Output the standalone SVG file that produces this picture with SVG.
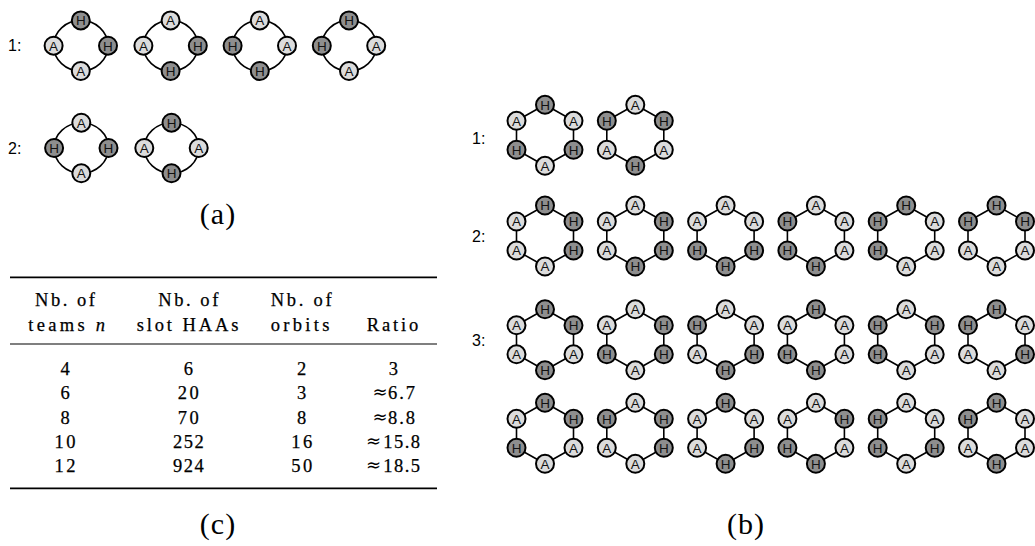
<svg xmlns="http://www.w3.org/2000/svg" xmlns:xlink="http://www.w3.org/1999/xlink" width="1035" height="546" viewBox="0 0 1035 546">
<style>
.n circle{stroke:#000;stroke-width:2}
.H circle{fill:#8e8e8e}
.A circle{fill:#dcdcdc}
.n text{font-family:"Liberation Sans",Arial,sans-serif;font-size:13.5px;text-anchor:middle;fill:#111}
.lbl{font-family:"Liberation Sans",Arial,sans-serif;font-size:16px;fill:#000}
.edge{stroke:#000;stroke-width:1.6;fill:none}
.tb{font-family:"Liberation Serif","Times New Roman",serif;font-size:18.5px;text-anchor:middle;fill:#000;stroke:#000;stroke-width:0.25}
.ap{font-family:"DejaVu Sans",sans-serif;font-size:18px;text-anchor:middle;fill:#000}
.cap{font-family:"Liberation Serif","Times New Roman",serif;font-size:30px;text-anchor:middle;fill:#000;letter-spacing:1px}
.rule{stroke:#000}
</style>
<defs>
<g id="hexring" class="edge">
<line x1="0" y1="-30.5" x2="28.5" y2="-14.5"/>
<line x1="28.5" y1="-14.5" x2="28.5" y2="14.5"/>
<line x1="28.5" y1="14.5" x2="0" y2="30.5"/>
<line x1="0" y1="30.5" x2="-28.5" y2="14.5"/>
<line x1="-28.5" y1="14.5" x2="-28.5" y2="-14.5"/>
<line x1="-28.5" y1="-14.5" x2="0" y2="-30.5"/>
</g>
<g id="diaring" class="edge">
<path d="M0,-25.3 A27.2,25.3 0 0 1 27.2,0"/>
<path d="M27.2,0 A27.2,25.3 0 0 1 0,25.3"/>
<path d="M0,25.3 A27.2,25.3 0 0 1 -27.2,0"/>
<path d="M-27.2,0 A27.2,25.3 0 0 1 0,-25.3"/>
</g>
</defs>
<rect width="1035" height="546" fill="#fff"/>

<g id="connectors">
<use xlink:href="#diaring" x="80.8" y="45.7"/>
<use xlink:href="#diaring" x="170.6" y="45.7"/>
<use xlink:href="#diaring" x="259.8" y="45.7"/>
<use xlink:href="#diaring" x="349" y="45.7"/>
<use xlink:href="#diaring" x="81.3" y="148"/>
<use xlink:href="#diaring" x="171.5" y="148"/>
<use xlink:href="#hexring" x="545" y="135.3"/>
<use xlink:href="#hexring" x="635.3" y="135.3"/>
<use xlink:href="#hexring" x="545" y="236"/>
<use xlink:href="#hexring" x="635.3" y="236"/>
<use xlink:href="#hexring" x="725.6" y="236"/>
<use xlink:href="#hexring" x="815.9" y="236"/>
<use xlink:href="#hexring" x="906.2" y="236"/>
<use xlink:href="#hexring" x="996.5" y="236"/>
<use xlink:href="#hexring" x="545" y="339.8"/>
<use xlink:href="#hexring" x="635.3" y="339.8"/>
<use xlink:href="#hexring" x="725.6" y="339.8"/>
<use xlink:href="#hexring" x="815.9" y="339.8"/>
<use xlink:href="#hexring" x="906.2" y="339.8"/>
<use xlink:href="#hexring" x="996.5" y="339.8"/>
<use xlink:href="#hexring" x="545" y="433.3"/>
<use xlink:href="#hexring" x="635.3" y="433.3"/>
<use xlink:href="#hexring" x="725.6" y="433.3"/>
<use xlink:href="#hexring" x="815.9" y="433.3"/>
<use xlink:href="#hexring" x="906.2" y="433.3"/>
<use xlink:href="#hexring" x="996.5" y="433.3"/>
</g>

<!-- part (a) -->
<text class="lbl" x="8" y="51">1:</text>
<text class="lbl" x="8" y="154">2:</text>

<g id="a1-1" transform="translate(80.8,45.7)">
<g id="a1-1-t" class="n H"><circle cx="0" cy="-25.3" r="9"/><text x="0" y="-20.5">H</text></g>
<g id="a1-1-r" class="n H"><circle cx="27.2" cy="0" r="9"/><text x="27.2" y="4.8">H</text></g>
<g id="a1-1-b" class="n A"><circle cx="0" cy="25.3" r="9"/><text x="0" y="30.1">A</text></g>
<g id="a1-1-l" class="n A"><circle cx="-27.2" cy="0" r="9"/><text x="-27.2" y="4.8">A</text></g>
</g>
<g id="a1-2" transform="translate(170.6,45.7)">
<g id="a1-2-t" class="n A"><circle cx="0" cy="-25.3" r="9"/><text x="0" y="-20.5">A</text></g>
<g id="a1-2-r" class="n H"><circle cx="27.2" cy="0" r="9"/><text x="27.2" y="4.8">H</text></g>
<g id="a1-2-b" class="n H"><circle cx="0" cy="25.3" r="9"/><text x="0" y="30.1">H</text></g>
<g id="a1-2-l" class="n A"><circle cx="-27.2" cy="0" r="9"/><text x="-27.2" y="4.8">A</text></g>
</g>
<g id="a1-3" transform="translate(259.8,45.7)">
<g id="a1-3-t" class="n A"><circle cx="0" cy="-25.3" r="9"/><text x="0" y="-20.5">A</text></g>
<g id="a1-3-r" class="n A"><circle cx="27.2" cy="0" r="9"/><text x="27.2" y="4.8">A</text></g>
<g id="a1-3-b" class="n H"><circle cx="0" cy="25.3" r="9"/><text x="0" y="30.1">H</text></g>
<g id="a1-3-l" class="n H"><circle cx="-27.2" cy="0" r="9"/><text x="-27.2" y="4.8">H</text></g>
</g>
<g id="a1-4" transform="translate(349,45.7)">
<g id="a1-4-t" class="n H"><circle cx="0" cy="-25.3" r="9"/><text x="0" y="-20.5">H</text></g>
<g id="a1-4-r" class="n A"><circle cx="27.2" cy="0" r="9"/><text x="27.2" y="4.8">A</text></g>
<g id="a1-4-b" class="n A"><circle cx="0" cy="25.3" r="9"/><text x="0" y="30.1">A</text></g>
<g id="a1-4-l" class="n H"><circle cx="-27.2" cy="0" r="9"/><text x="-27.2" y="4.8">H</text></g>
</g>
<g id="a2-1" transform="translate(81.3,148)">
<g id="a2-1-t" class="n A"><circle cx="0" cy="-25.3" r="9"/><text x="0" y="-20.5">A</text></g>
<g id="a2-1-r" class="n H"><circle cx="27.2" cy="0" r="9"/><text x="27.2" y="4.8">H</text></g>
<g id="a2-1-b" class="n A"><circle cx="0" cy="25.3" r="9"/><text x="0" y="30.1">A</text></g>
<g id="a2-1-l" class="n H"><circle cx="-27.2" cy="0" r="9"/><text x="-27.2" y="4.8">H</text></g>
</g>
<g id="a2-2" transform="translate(171.5,148)">
<g id="a2-2-t" class="n H"><circle cx="0" cy="-25.3" r="9"/><text x="0" y="-20.5">H</text></g>
<g id="a2-2-r" class="n A"><circle cx="27.2" cy="0" r="9"/><text x="27.2" y="4.8">A</text></g>
<g id="a2-2-b" class="n H"><circle cx="0" cy="25.3" r="9"/><text x="0" y="30.1">H</text></g>
<g id="a2-2-l" class="n A"><circle cx="-27.2" cy="0" r="9"/><text x="-27.2" y="4.8">A</text></g>
</g>
<text class="cap" x="218" y="224">(a)</text>

<!-- part (c) table -->
<g id="table">
<line class="rule" x1="10" y1="277.3" x2="437" y2="277.3" stroke-width="1.8"/>
<line class="rule" x1="10" y1="344" x2="437" y2="344" stroke-width="1.1"/>
<line class="rule" x1="10" y1="488.3" x2="437" y2="488.3" stroke-width="1.8"/>
<text class="tb" x="65" y="306" textLength="60" lengthAdjust="spacing">Nb. of</text>
<text class="tb" x="66.7" y="331" textLength="76.7" lengthAdjust="spacing">teams <tspan font-style="italic">n</tspan></text>
<text class="tb" x="188.3" y="306" textLength="60" lengthAdjust="spacing">Nb. of</text>
<text class="tb" x="187.5" y="331" textLength="101.7" lengthAdjust="spacing">slot HAAs</text>
<text class="tb" x="301.2" y="306" textLength="61" lengthAdjust="spacing">Nb. of</text>
<text class="tb" x="300" y="331" textLength="58.7" lengthAdjust="spacing">orbits</text>
<text class="tb" x="392.5" y="331" textLength="51.7" lengthAdjust="spacing">Ratio</text>

<text class="tb" x="65" y="375">4</text>
<text class="tb" x="188.3" y="375">6</text>
<text class="tb" x="301.7" y="375">2</text>
<text class="tb" x="393.3" y="375">3</text>

<text class="tb" x="65" y="399.3">6</text>
<text class="tb" x="188.3" y="399.3" textLength="21" lengthAdjust="spacing">20</text>
<text class="tb" x="301.7" y="399.3">3</text>
<text class="ap" x="380" y="398.3">≈</text>
<text class="tb" x="401.5" y="399.3" textLength="27" lengthAdjust="spacing">6.7</text>

<text class="tb" x="65" y="423.6">8</text>
<text class="tb" x="188.3" y="423.6" textLength="21" lengthAdjust="spacing">70</text>
<text class="tb" x="301.7" y="423.6">8</text>
<text class="ap" x="380" y="422.6">≈</text>
<text class="tb" x="401.5" y="423.6" textLength="27" lengthAdjust="spacing">8.8</text>

<text class="tb" x="65" y="447.9" textLength="21" lengthAdjust="spacing">10</text>
<text class="tb" x="188.3" y="447.9" textLength="30.7" lengthAdjust="spacing">252</text>
<text class="tb" x="301.7" y="447.9" textLength="21" lengthAdjust="spacing">16</text>
<text class="ap" x="373.5" y="446.9">≈</text>
<text class="tb" x="401.7" y="447.9" textLength="36.7" lengthAdjust="spacing">15.8</text>

<text class="tb" x="65" y="472.2" textLength="21" lengthAdjust="spacing">12</text>
<text class="tb" x="188.3" y="472.2" textLength="30.7" lengthAdjust="spacing">924</text>
<text class="tb" x="301.7" y="472.2" textLength="21" lengthAdjust="spacing">50</text>
<text class="ap" x="373.5" y="471.2">≈</text>
<text class="tb" x="401.7" y="472.2" textLength="36.7" lengthAdjust="spacing">18.5</text>
</g>
<text class="cap" x="218" y="534">(c)</text>

<!-- part (b) -->
<text class="lbl" x="472" y="144">1:</text>
<text class="lbl" x="472" y="242">2:</text>
<text class="lbl" x="472" y="346">3:</text>

<g id="b1-1" transform="translate(545,135.3)">
<g id="b1-1-t" class="n H"><circle cx="0" cy="-30.5" r="9"/><text x="0" y="-25.7">H</text></g>
<g id="b1-1-ur" class="n A"><circle cx="28.5" cy="-14.5" r="9"/><text x="28.5" y="-9.7">A</text></g>
<g id="b1-1-lr" class="n H"><circle cx="28.5" cy="14.5" r="9"/><text x="28.5" y="19.3">H</text></g>
<g id="b1-1-b" class="n A"><circle cx="0" cy="30.5" r="9"/><text x="0" y="35.3">A</text></g>
<g id="b1-1-ll" class="n H"><circle cx="-28.5" cy="14.5" r="9"/><text x="-28.5" y="19.3">H</text></g>
<g id="b1-1-ul" class="n A"><circle cx="-28.5" cy="-14.5" r="9"/><text x="-28.5" y="-9.7">A</text></g>
</g>
<g id="b1-2" transform="translate(635.3,135.3)">
<g id="b1-2-t" class="n A"><circle cx="0" cy="-30.5" r="9"/><text x="0" y="-25.7">A</text></g>
<g id="b1-2-ur" class="n H"><circle cx="28.5" cy="-14.5" r="9"/><text x="28.5" y="-9.7">H</text></g>
<g id="b1-2-lr" class="n A"><circle cx="28.5" cy="14.5" r="9"/><text x="28.5" y="19.3">A</text></g>
<g id="b1-2-b" class="n H"><circle cx="0" cy="30.5" r="9"/><text x="0" y="35.3">H</text></g>
<g id="b1-2-ll" class="n A"><circle cx="-28.5" cy="14.5" r="9"/><text x="-28.5" y="19.3">A</text></g>
<g id="b1-2-ul" class="n H"><circle cx="-28.5" cy="-14.5" r="9"/><text x="-28.5" y="-9.7">H</text></g>
</g>

<g id="b2-1" transform="translate(545,236)">
<g id="b2-1-t" class="n H"><circle cx="0" cy="-30.5" r="9"/><text x="0" y="-25.7">H</text></g>
<g id="b2-1-ur" class="n H"><circle cx="28.5" cy="-14.5" r="9"/><text x="28.5" y="-9.7">H</text></g>
<g id="b2-1-lr" class="n H"><circle cx="28.5" cy="14.5" r="9"/><text x="28.5" y="19.3">H</text></g>
<g id="b2-1-b" class="n A"><circle cx="0" cy="30.5" r="9"/><text x="0" y="35.3">A</text></g>
<g id="b2-1-ll" class="n A"><circle cx="-28.5" cy="14.5" r="9"/><text x="-28.5" y="19.3">A</text></g>
<g id="b2-1-ul" class="n A"><circle cx="-28.5" cy="-14.5" r="9"/><text x="-28.5" y="-9.7">A</text></g>
</g>
<g id="b2-2" transform="translate(635.3,236)">
<g id="b2-2-t" class="n A"><circle cx="0" cy="-30.5" r="9"/><text x="0" y="-25.7">A</text></g>
<g id="b2-2-ur" class="n H"><circle cx="28.5" cy="-14.5" r="9"/><text x="28.5" y="-9.7">H</text></g>
<g id="b2-2-lr" class="n H"><circle cx="28.5" cy="14.5" r="9"/><text x="28.5" y="19.3">H</text></g>
<g id="b2-2-b" class="n H"><circle cx="0" cy="30.5" r="9"/><text x="0" y="35.3">H</text></g>
<g id="b2-2-ll" class="n A"><circle cx="-28.5" cy="14.5" r="9"/><text x="-28.5" y="19.3">A</text></g>
<g id="b2-2-ul" class="n A"><circle cx="-28.5" cy="-14.5" r="9"/><text x="-28.5" y="-9.7">A</text></g>
</g>
<g id="b2-3" transform="translate(725.6,236)">
<g id="b2-3-t" class="n A"><circle cx="0" cy="-30.5" r="9"/><text x="0" y="-25.7">A</text></g>
<g id="b2-3-ur" class="n A"><circle cx="28.5" cy="-14.5" r="9"/><text x="28.5" y="-9.7">A</text></g>
<g id="b2-3-lr" class="n H"><circle cx="28.5" cy="14.5" r="9"/><text x="28.5" y="19.3">H</text></g>
<g id="b2-3-b" class="n H"><circle cx="0" cy="30.5" r="9"/><text x="0" y="35.3">H</text></g>
<g id="b2-3-ll" class="n H"><circle cx="-28.5" cy="14.5" r="9"/><text x="-28.5" y="19.3">H</text></g>
<g id="b2-3-ul" class="n A"><circle cx="-28.5" cy="-14.5" r="9"/><text x="-28.5" y="-9.7">A</text></g>
</g>
<g id="b2-4" transform="translate(815.9,236)">
<g id="b2-4-t" class="n A"><circle cx="0" cy="-30.5" r="9"/><text x="0" y="-25.7">A</text></g>
<g id="b2-4-ur" class="n A"><circle cx="28.5" cy="-14.5" r="9"/><text x="28.5" y="-9.7">A</text></g>
<g id="b2-4-lr" class="n A"><circle cx="28.5" cy="14.5" r="9"/><text x="28.5" y="19.3">A</text></g>
<g id="b2-4-b" class="n H"><circle cx="0" cy="30.5" r="9"/><text x="0" y="35.3">H</text></g>
<g id="b2-4-ll" class="n H"><circle cx="-28.5" cy="14.5" r="9"/><text x="-28.5" y="19.3">H</text></g>
<g id="b2-4-ul" class="n H"><circle cx="-28.5" cy="-14.5" r="9"/><text x="-28.5" y="-9.7">H</text></g>
</g>
<g id="b2-5" transform="translate(906.2,236)">
<g id="b2-5-t" class="n H"><circle cx="0" cy="-30.5" r="9"/><text x="0" y="-25.7">H</text></g>
<g id="b2-5-ur" class="n A"><circle cx="28.5" cy="-14.5" r="9"/><text x="28.5" y="-9.7">A</text></g>
<g id="b2-5-lr" class="n A"><circle cx="28.5" cy="14.5" r="9"/><text x="28.5" y="19.3">A</text></g>
<g id="b2-5-b" class="n A"><circle cx="0" cy="30.5" r="9"/><text x="0" y="35.3">A</text></g>
<g id="b2-5-ll" class="n H"><circle cx="-28.5" cy="14.5" r="9"/><text x="-28.5" y="19.3">H</text></g>
<g id="b2-5-ul" class="n H"><circle cx="-28.5" cy="-14.5" r="9"/><text x="-28.5" y="-9.7">H</text></g>
</g>
<g id="b2-6" transform="translate(996.5,236)">
<g id="b2-6-t" class="n H"><circle cx="0" cy="-30.5" r="9"/><text x="0" y="-25.7">H</text></g>
<g id="b2-6-ur" class="n H"><circle cx="28.5" cy="-14.5" r="9"/><text x="28.5" y="-9.7">H</text></g>
<g id="b2-6-lr" class="n A"><circle cx="28.5" cy="14.5" r="9"/><text x="28.5" y="19.3">A</text></g>
<g id="b2-6-b" class="n A"><circle cx="0" cy="30.5" r="9"/><text x="0" y="35.3">A</text></g>
<g id="b2-6-ll" class="n A"><circle cx="-28.5" cy="14.5" r="9"/><text x="-28.5" y="19.3">A</text></g>
<g id="b2-6-ul" class="n H"><circle cx="-28.5" cy="-14.5" r="9"/><text x="-28.5" y="-9.7">H</text></g>
</g>

<g id="b3-1" transform="translate(545,339.8)">
<g id="b3-1-t" class="n H"><circle cx="0" cy="-30.5" r="9"/><text x="0" y="-25.7">H</text></g>
<g id="b3-1-ur" class="n H"><circle cx="28.5" cy="-14.5" r="9"/><text x="28.5" y="-9.7">H</text></g>
<g id="b3-1-lr" class="n A"><circle cx="28.5" cy="14.5" r="9"/><text x="28.5" y="19.3">A</text></g>
<g id="b3-1-b" class="n H"><circle cx="0" cy="30.5" r="9"/><text x="0" y="35.3">H</text></g>
<g id="b3-1-ll" class="n A"><circle cx="-28.5" cy="14.5" r="9"/><text x="-28.5" y="19.3">A</text></g>
<g id="b3-1-ul" class="n A"><circle cx="-28.5" cy="-14.5" r="9"/><text x="-28.5" y="-9.7">A</text></g>
</g>
<g id="b3-2" transform="translate(635.3,339.8)">
<g id="b3-2-t" class="n A"><circle cx="0" cy="-30.5" r="9"/><text x="0" y="-25.7">A</text></g>
<g id="b3-2-ur" class="n H"><circle cx="28.5" cy="-14.5" r="9"/><text x="28.5" y="-9.7">H</text></g>
<g id="b3-2-lr" class="n H"><circle cx="28.5" cy="14.5" r="9"/><text x="28.5" y="19.3">H</text></g>
<g id="b3-2-b" class="n A"><circle cx="0" cy="30.5" r="9"/><text x="0" y="35.3">A</text></g>
<g id="b3-2-ll" class="n H"><circle cx="-28.5" cy="14.5" r="9"/><text x="-28.5" y="19.3">H</text></g>
<g id="b3-2-ul" class="n A"><circle cx="-28.5" cy="-14.5" r="9"/><text x="-28.5" y="-9.7">A</text></g>
</g>
<g id="b3-3" transform="translate(725.6,339.8)">
<g id="b3-3-t" class="n A"><circle cx="0" cy="-30.5" r="9"/><text x="0" y="-25.7">A</text></g>
<g id="b3-3-ur" class="n A"><circle cx="28.5" cy="-14.5" r="9"/><text x="28.5" y="-9.7">A</text></g>
<g id="b3-3-lr" class="n H"><circle cx="28.5" cy="14.5" r="9"/><text x="28.5" y="19.3">H</text></g>
<g id="b3-3-b" class="n H"><circle cx="0" cy="30.5" r="9"/><text x="0" y="35.3">H</text></g>
<g id="b3-3-ll" class="n A"><circle cx="-28.5" cy="14.5" r="9"/><text x="-28.5" y="19.3">A</text></g>
<g id="b3-3-ul" class="n H"><circle cx="-28.5" cy="-14.5" r="9"/><text x="-28.5" y="-9.7">H</text></g>
</g>
<g id="b3-4" transform="translate(815.9,339.8)">
<g id="b3-4-t" class="n H"><circle cx="0" cy="-30.5" r="9"/><text x="0" y="-25.7">H</text></g>
<g id="b3-4-ur" class="n A"><circle cx="28.5" cy="-14.5" r="9"/><text x="28.5" y="-9.7">A</text></g>
<g id="b3-4-lr" class="n A"><circle cx="28.5" cy="14.5" r="9"/><text x="28.5" y="19.3">A</text></g>
<g id="b3-4-b" class="n H"><circle cx="0" cy="30.5" r="9"/><text x="0" y="35.3">H</text></g>
<g id="b3-4-ll" class="n H"><circle cx="-28.5" cy="14.5" r="9"/><text x="-28.5" y="19.3">H</text></g>
<g id="b3-4-ul" class="n A"><circle cx="-28.5" cy="-14.5" r="9"/><text x="-28.5" y="-9.7">A</text></g>
</g>
<g id="b3-5" transform="translate(906.2,339.8)">
<g id="b3-5-t" class="n A"><circle cx="0" cy="-30.5" r="9"/><text x="0" y="-25.7">A</text></g>
<g id="b3-5-ur" class="n H"><circle cx="28.5" cy="-14.5" r="9"/><text x="28.5" y="-9.7">H</text></g>
<g id="b3-5-lr" class="n A"><circle cx="28.5" cy="14.5" r="9"/><text x="28.5" y="19.3">A</text></g>
<g id="b3-5-b" class="n A"><circle cx="0" cy="30.5" r="9"/><text x="0" y="35.3">A</text></g>
<g id="b3-5-ll" class="n H"><circle cx="-28.5" cy="14.5" r="9"/><text x="-28.5" y="19.3">H</text></g>
<g id="b3-5-ul" class="n H"><circle cx="-28.5" cy="-14.5" r="9"/><text x="-28.5" y="-9.7">H</text></g>
</g>
<g id="b3-6" transform="translate(996.5,339.8)">
<g id="b3-6-t" class="n H"><circle cx="0" cy="-30.5" r="9"/><text x="0" y="-25.7">H</text></g>
<g id="b3-6-ur" class="n A"><circle cx="28.5" cy="-14.5" r="9"/><text x="28.5" y="-9.7">A</text></g>
<g id="b3-6-lr" class="n H"><circle cx="28.5" cy="14.5" r="9"/><text x="28.5" y="19.3">H</text></g>
<g id="b3-6-b" class="n A"><circle cx="0" cy="30.5" r="9"/><text x="0" y="35.3">A</text></g>
<g id="b3-6-ll" class="n A"><circle cx="-28.5" cy="14.5" r="9"/><text x="-28.5" y="19.3">A</text></g>
<g id="b3-6-ul" class="n H"><circle cx="-28.5" cy="-14.5" r="9"/><text x="-28.5" y="-9.7">H</text></g>
</g>

<g id="b4-1" transform="translate(545,433.3)">
<g id="b4-1-t" class="n H"><circle cx="0" cy="-30.5" r="9"/><text x="0" y="-25.7">H</text></g>
<g id="b4-1-ur" class="n H"><circle cx="28.5" cy="-14.5" r="9"/><text x="28.5" y="-9.7">H</text></g>
<g id="b4-1-lr" class="n A"><circle cx="28.5" cy="14.5" r="9"/><text x="28.5" y="19.3">A</text></g>
<g id="b4-1-b" class="n A"><circle cx="0" cy="30.5" r="9"/><text x="0" y="35.3">A</text></g>
<g id="b4-1-ll" class="n H"><circle cx="-28.5" cy="14.5" r="9"/><text x="-28.5" y="19.3">H</text></g>
<g id="b4-1-ul" class="n A"><circle cx="-28.5" cy="-14.5" r="9"/><text x="-28.5" y="-9.7">A</text></g>
</g>
<g id="b4-2" transform="translate(635.3,433.3)">
<g id="b4-2-t" class="n A"><circle cx="0" cy="-30.5" r="9"/><text x="0" y="-25.7">A</text></g>
<g id="b4-2-ur" class="n H"><circle cx="28.5" cy="-14.5" r="9"/><text x="28.5" y="-9.7">H</text></g>
<g id="b4-2-lr" class="n H"><circle cx="28.5" cy="14.5" r="9"/><text x="28.5" y="19.3">H</text></g>
<g id="b4-2-b" class="n A"><circle cx="0" cy="30.5" r="9"/><text x="0" y="35.3">A</text></g>
<g id="b4-2-ll" class="n A"><circle cx="-28.5" cy="14.5" r="9"/><text x="-28.5" y="19.3">A</text></g>
<g id="b4-2-ul" class="n H"><circle cx="-28.5" cy="-14.5" r="9"/><text x="-28.5" y="-9.7">H</text></g>
</g>
<g id="b4-3" transform="translate(725.6,433.3)">
<g id="b4-3-t" class="n H"><circle cx="0" cy="-30.5" r="9"/><text x="0" y="-25.7">H</text></g>
<g id="b4-3-ur" class="n A"><circle cx="28.5" cy="-14.5" r="9"/><text x="28.5" y="-9.7">A</text></g>
<g id="b4-3-lr" class="n H"><circle cx="28.5" cy="14.5" r="9"/><text x="28.5" y="19.3">H</text></g>
<g id="b4-3-b" class="n H"><circle cx="0" cy="30.5" r="9"/><text x="0" y="35.3">H</text></g>
<g id="b4-3-ll" class="n A"><circle cx="-28.5" cy="14.5" r="9"/><text x="-28.5" y="19.3">A</text></g>
<g id="b4-3-ul" class="n A"><circle cx="-28.5" cy="-14.5" r="9"/><text x="-28.5" y="-9.7">A</text></g>
</g>
<g id="b4-4" transform="translate(815.9,433.3)">
<g id="b4-4-t" class="n A"><circle cx="0" cy="-30.5" r="9"/><text x="0" y="-25.7">A</text></g>
<g id="b4-4-ur" class="n H"><circle cx="28.5" cy="-14.5" r="9"/><text x="28.5" y="-9.7">H</text></g>
<g id="b4-4-lr" class="n A"><circle cx="28.5" cy="14.5" r="9"/><text x="28.5" y="19.3">A</text></g>
<g id="b4-4-b" class="n H"><circle cx="0" cy="30.5" r="9"/><text x="0" y="35.3">H</text></g>
<g id="b4-4-ll" class="n H"><circle cx="-28.5" cy="14.5" r="9"/><text x="-28.5" y="19.3">H</text></g>
<g id="b4-4-ul" class="n A"><circle cx="-28.5" cy="-14.5" r="9"/><text x="-28.5" y="-9.7">A</text></g>
</g>
<g id="b4-5" transform="translate(906.2,433.3)">
<g id="b4-5-t" class="n A"><circle cx="0" cy="-30.5" r="9"/><text x="0" y="-25.7">A</text></g>
<g id="b4-5-ur" class="n A"><circle cx="28.5" cy="-14.5" r="9"/><text x="28.5" y="-9.7">A</text></g>
<g id="b4-5-lr" class="n H"><circle cx="28.5" cy="14.5" r="9"/><text x="28.5" y="19.3">H</text></g>
<g id="b4-5-b" class="n A"><circle cx="0" cy="30.5" r="9"/><text x="0" y="35.3">A</text></g>
<g id="b4-5-ll" class="n H"><circle cx="-28.5" cy="14.5" r="9"/><text x="-28.5" y="19.3">H</text></g>
<g id="b4-5-ul" class="n H"><circle cx="-28.5" cy="-14.5" r="9"/><text x="-28.5" y="-9.7">H</text></g>
</g>
<g id="b4-6" transform="translate(996.5,433.3)">
<g id="b4-6-t" class="n H"><circle cx="0" cy="-30.5" r="9"/><text x="0" y="-25.7">H</text></g>
<g id="b4-6-ur" class="n A"><circle cx="28.5" cy="-14.5" r="9"/><text x="28.5" y="-9.7">A</text></g>
<g id="b4-6-lr" class="n A"><circle cx="28.5" cy="14.5" r="9"/><text x="28.5" y="19.3">A</text></g>
<g id="b4-6-b" class="n H"><circle cx="0" cy="30.5" r="9"/><text x="0" y="35.3">H</text></g>
<g id="b4-6-ll" class="n A"><circle cx="-28.5" cy="14.5" r="9"/><text x="-28.5" y="19.3">A</text></g>
<g id="b4-6-ul" class="n H"><circle cx="-28.5" cy="-14.5" r="9"/><text x="-28.5" y="-9.7">H</text></g>
</g>
<text class="cap" x="746" y="534">(b)</text>
</svg>
